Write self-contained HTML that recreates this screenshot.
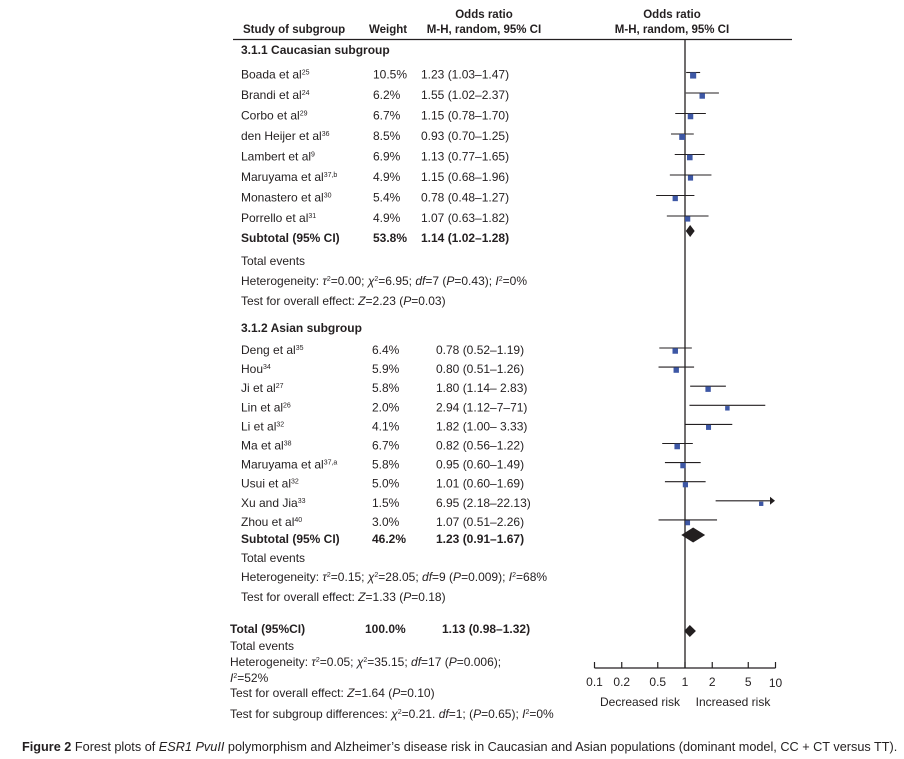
<!DOCTYPE html>
<html><head><meta charset="utf-8">
<style>
html,body{margin:0;padding:0;background:#fff;}
svg{display:block;font-family:"Liberation Sans",Arial,sans-serif;}
text{font-size:12px;fill:#231f20;}
.b{font-weight:bold;}
.h{font-size:11.5px;}
</style></head>
<body>
<svg id="chart" width="904" height="759" viewBox="0 0 904 759">
  <g>
    <text x="243" y="33" class="b h">Study of subgroup</text>
    <text x="369" y="33" class="b h">Weight</text>
    <text x="484" y="18" class="b h" text-anchor="middle">Odds ratio</text>
    <text x="484" y="33" class="b h" text-anchor="middle">M-H, random, 95% CI</text>
    <text x="672" y="18" class="b h" text-anchor="middle">Odds ratio</text>
    <text x="672" y="33" class="b h" text-anchor="middle">M-H, random, 95% CI</text>
    <line x1="233" y1="39.5" x2="792" y2="39.5" stroke="#231f20" stroke-width="1.2"/>
  </g>
  <g id="rows"></g>
  <g id="marks"></g>
  <g id="axis"></g>
  <text x="22" y="751" style="font-size:12.7px"><tspan class="b">Figure 2</tspan> Forest plots of <tspan font-style="italic">ESR1 PvuII</tspan> polymorphism and Alzheimer’s disease risk in Caucasian and Asian populations (dominant model, CC + CT versus TT).</text>
</svg>
<script>
// ---- data ----
const cauStudies = ["Boada et al","Brandi et al","Corbo et al","den Heijer et al","Lambert et al","Maruyama et al","Monastero et al","Porrello et al"];
const cauRefs = ["25","24","29","36","9","37,b","30","31"];
const cauWeights = [10.5,6.2,6.7,8.5,6.9,4.9,5.4,4.9];
const cauOR = [1.23,1.55,1.15,0.93,1.13,1.15,0.78,1.07];
const cauLo = [1.03,1.02,0.78,0.70,0.77,0.68,0.48,0.63];
const cauHi = [1.47,2.37,1.70,1.25,1.65,1.96,1.27,1.82];
const cauSub = [53.8,1.14,1.02,1.28];

const asiStudies = ["Deng et al","Hou","Ji et al","Lin et al","Li et al","Ma et al","Maruyama et al","Usui et al","Xu and Jia","Zhou et al"];
const asiRefs = ["35","34","27","26","32","38","37,a","32","33","40"];
const asiWeights = [6.4,5.9,5.8,2.0,4.1,6.7,5.8,5.0,1.5,3.0];
const asiOR = [0.78,0.80,1.80,2.94,1.82,0.82,0.95,1.01,6.95,1.07];
const asiLo = [0.52,0.51,1.14,1.12,1.00,0.56,0.60,0.60,2.18,0.51];
const asiHi = [1.19,1.26,2.83,7.71,3.33,1.22,1.49,1.69,22.13,2.26];
const asiHiLabel = ["1.19","1.26"," 2.83","7–71"," 3.33","1.22","1.49","1.69","22.13","2.26"];
const asiSub = [46.2,1.23,0.91,1.67];

const total = [100.0,1.13,0.98,1.32];
const axisTicks = [0.1,0.2,0.5,1,2,5,10];
const axisTickLabels = ["0.1","0.2","0.5","1","2","5","10"];

// ---- scales ----
const X0 = 685, PER_DEC = 90.5, XMIN = 594, XMAX = 775;
function xs(v){ return X0 + PER_DEC*Math.log10(v); }
const NS = "http://www.w3.org/2000/svg";
const rows = document.getElementById('rows');
const marks = document.getElementById('marks');
const axis = document.getElementById('axis');
function mk(tag, attrs, parent){
  const e = document.createElementNS(NS, tag);
  for (const k in attrs) e.setAttribute(k, attrs[k]);
  parent.appendChild(e); return e;
}
function txt(x,y,s,parent,cls,anchor){
  const t = mk('text',{x:x,y:y},parent);
  if(cls) t.setAttribute('class',cls);
  if(anchor) t.setAttribute('text-anchor',anchor);
  if(s!==null) t.textContent = s;
  return t;
}
function f2(v){ return v.toFixed(2); }
function ci(o,l,h){ return f2(o)+" ("+f2(l)+"–"+(typeof h==='string'?h:f2(h))+")"; }

const vl = mk('line',{x1:X0,y1:40,x2:X0,y2:668,stroke:'#231f20','stroke-width':1.3},marks);



function drawGroup(names,refs,w,or,lo,hi,hiLbl,y0,step,wX,orX){
  for(let i=0;i<names.length;i++){
    const y = y0 + i*step;
    const n = txt(241,y+4,null,rows);
    
    
    const t1 = mk('tspan',{},n); t1.textContent = names[i];
    const t2 = mk('tspan',{dy:-4,'font-size':'7px'},n); t2.textContent = refs[i];
    const wt = txt(wX,y+4,w[i].toFixed(1)+"%",rows);
    
    
    const ot = txt(orX,y+4,ci(or[i],lo[i],hiLbl?hiLbl[i]:hi[i]),rows);
    
    
    const x1 = xs(lo[i]);
    const over = xs(hi[i]) > XMAX;
    const x2 = over ? XMAX-4 : xs(hi[i]);
    const l = mk('line',{x1:x1,y1:y-2,x2:x2,y2:y-2,stroke:'#231f20','stroke-width':1.1},marks);
    
    
    if(over){
      const a = mk('polygon',{points:(XMAX-5)+","+(y-6)+" "+(XMAX)+","+(y-2)+" "+(XMAX-5)+","+(y+2),fill:'#231f20'},marks);
      
      
    }
    const s = 3.2 + Math.sqrt(w[i])*0.9;
    const sq = mk('rect',{x:xs(or[i])-s/2,y:y+1-s/2,width:s,height:s,fill:'#3d57a5'},marks);
    
    
  }
}
function diamond(vals,y,h,name){
  const d = mk('polygon',{points:xs(vals[2])+","+y+" "+xs(vals[1])+","+(y-h/2)+" "+xs(vals[3])+","+y+" "+xs(vals[1])+","+(y+h/2),fill:'#231f20'},marks);
  
  
}

// Caucasian
let h = txt(241,54,"3.1.1 Caucasian subgroup",rows,'b');


drawGroup(cauStudies,cauRefs,cauWeights,cauOR,cauLo,cauHi,null,74.5,20.5,373,421);
let s1 = txt(241,242,"Subtotal (95% CI)",rows,'b');


let s1w = txt(373,242,cauSub[0].toFixed(1)+"%",rows,'b');


let s1o = txt(421,242,ci(cauSub[1],cauSub[2],cauSub[3]),rows,'b');


diamond(cauSub,231,12,'caucasian-subtotal-diamond');
const c1 = document.createElementNS(NS,'g'); rows.appendChild(c1);


c1.innerHTML = '<text x="241" y="265">Total events</text>'+
 '<text x="241" y="285">Heterogeneity: <tspan font-style="italic">τ</tspan><tspan dy="-4" font-size="7px">2</tspan><tspan dy="4">=0.00; </tspan><tspan font-style="italic">χ</tspan><tspan dy="-4" font-size="7px">2</tspan><tspan dy="4">=6.95; </tspan><tspan font-style="italic">df</tspan>=7 (<tspan font-style="italic">P</tspan>=0.43); <tspan font-style="italic">I</tspan><tspan dy="-4" font-size="7px">2</tspan><tspan dy="4">=0%</tspan></text>'+
 '<text x="241" y="305">Test for overall effect: <tspan font-style="italic">Z</tspan>=2.23 (<tspan font-style="italic">P</tspan>=0.03)</text>';

// Asian
h = txt(241,332,"3.1.2 Asian subgroup",rows,'b');


drawGroup(asiStudies,asiRefs,asiWeights,asiOR,asiLo,asiHi,asiHiLabel,350,19.1,372,436);
let s2 = txt(241,543,"Subtotal (95% CI)",rows,'b');


let s2w = txt(372,543,asiSub[0].toFixed(1)+"%",rows,'b');


let s2o = txt(436,543,ci(asiSub[1],asiSub[2],asiSub[3]),rows,'b');


diamond(asiSub,535,15,'asian-subtotal-diamond');
const c2 = document.createElementNS(NS,'g'); rows.appendChild(c2);


c2.innerHTML = '<text x="241" y="562">Total events</text>'+
 '<text x="241" y="581">Heterogeneity: <tspan font-style="italic">τ</tspan><tspan dy="-4" font-size="7px">2</tspan><tspan dy="4">=0.15; </tspan><tspan font-style="italic">χ</tspan><tspan dy="-4" font-size="7px">2</tspan><tspan dy="4">=28.05; </tspan><tspan font-style="italic">df</tspan>=9 (<tspan font-style="italic">P</tspan>=0.009); <tspan font-style="italic">I</tspan><tspan dy="-4" font-size="7px">2</tspan><tspan dy="4">=68%</tspan></text>'+
 '<text x="241" y="601">Test for overall effect: <tspan font-style="italic">Z</tspan>=1.33 (<tspan font-style="italic">P</tspan>=0.18)</text>';

// Total
let tl = txt(230,633,"Total (95%CI)",rows,'b');


let tw = txt(365,633,total[0].toFixed(1)+"%",rows,'b');


let to = txt(442,633,ci(total[1],total[2],total[3]),rows,'b');


diamond(total,631,12,'total-diamond');
const c3 = document.createElementNS(NS,'g'); rows.appendChild(c3);


c3.innerHTML = '<text x="230" y="650">Total events</text>'+
 '<text x="230" y="666">Heterogeneity: <tspan font-style="italic">τ</tspan><tspan dy="-4" font-size="7px">2</tspan><tspan dy="4">=0.05; </tspan><tspan font-style="italic">χ</tspan><tspan dy="-4" font-size="7px">2</tspan><tspan dy="4">=35.15; </tspan><tspan font-style="italic">df</tspan>=17 (<tspan font-style="italic">P</tspan>=0.006);</text>'+
 '<text x="230" y="682"><tspan font-style="italic">I</tspan><tspan dy="-4" font-size="7px">2</tspan><tspan dy="4">=52%</tspan></text>'+
 '<text x="230" y="697">Test for overall effect: <tspan font-style="italic">Z</tspan>=1.64 (<tspan font-style="italic">P</tspan>=0.10)</text>'+
 '<text x="230" y="718">Test for subgroup differences: <tspan font-style="italic">χ</tspan><tspan dy="-4" font-size="7px">2</tspan><tspan dy="4">=0.21. </tspan><tspan font-style="italic">df</tspan>=1; (<tspan font-style="italic">P</tspan>=0.65); <tspan font-style="italic">I</tspan><tspan dy="-4" font-size="7px">2</tspan><tspan dy="4">=0%</tspan></text>';

// Axis
const AY = 668;
const al = mk('line',{x1:xs(axisTicks[0]),y1:AY,x2:xs(axisTicks[axisTicks.length-1]),y2:AY,stroke:'#231f20','stroke-width':1.2},axis);


for(let i=0;i<axisTicks.length;i++){
  const x = xs(axisTicks[i]);
  const tk = mk('line',{x1:x,y1:AY-6,x2:x,y2:AY,stroke:'#231f20','stroke-width':1.2},axis);
  
  
  const lb = txt(x,AY+18+(i===axisTicks.length-1?1:0),axisTickLabels[i],axis,null,'middle');
  
  
}
const dl = txt(640,706,"Decreased risk",axis,null,'middle');


const il = txt(733,706,"Increased risk",axis,null,'middle');


</script>
</body></html>
